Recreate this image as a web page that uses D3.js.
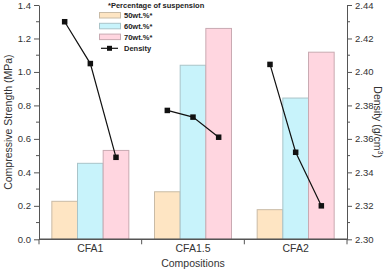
<!DOCTYPE html>
<html>
<head>
<meta charset="utf-8">
<script src="https://cdn.jsdelivr.net/npm/d3@7"></script>
<style>
  body { margin: 0; background: #fff; }
  svg { font-family: "Liberation Sans", Arial, sans-serif; }
</style>
</head>
<body>
<div id="chart"></div>
<script>
// * Chart data
var categories = ["CFA1", "CFA1.5", "CFA2"];
var seriesNames = ["50wt.%*", "60wt.%*", "70wt.%*"];
var strength50 = [0.227, 0.284, 0.177];
var strength60 = [0.454, 1.04, 0.844];
var strength70 = [0.531, 1.26, 1.118];
var density = [
  [2.430, 2.405, 2.349],
  [2.377, 2.373, 2.361],
  [2.4045, 2.352, 2.320]
];
var leftTicks = [0, 0.2, 0.4, 0.6, 0.8, 1.0, 1.2, 1.4];
var rightTicks = [2.30, 2.32, 2.34, 2.36, 2.38, 2.40, 2.42, 2.44];

var fills = ["#fee5c3", "#c8f3fb", "#ffd6e0"];
var strokes = ["#c9bba6", "#a9c4c9", "#c9aab2"];
var axisColor = "#555";
var textColor = "#333";

// * Dimensions
var W = 387, H = 269;
var margin = { left: 39, top: 5, right: 40, bottom: 30 };
var width = W - margin.left - margin.right;
var height = 234.3;

var svg = d3.select("#chart").append("svg")
  .attr("width", W).attr("height", H);
var g = svg.append("g")
  .attr("transform", "translate(" + margin.left + "," + margin.top + ")");

// * Scales
var x0 = d3.scaleBand().domain(categories).range([0, width]).padding(0);
var x1 = d3.scaleBand().domain(seriesNames)
  .range([x0.bandwidth() * 0.125, x0.bandwidth() * 0.875]).padding(0);
var y = d3.scaleLinear().domain([0, 1.4]).range([height, 0]);
var y2 = d3.scaleLinear().domain([2.30, 2.44]).range([height, 0]);

var strengthSeries = [strength50, strength60, strength70];

// * Bars
categories.forEach(function (cat, ci) {
  var grp = g.append("g").attr("transform", "translate(" + x0(cat) + ",0)");
  grp.selectAll("rect")
    .data(seriesNames.map(function (s, si) { return { s: s, i: si, v: strengthSeries[si][ci] }; }))
    .enter().append("rect")
    .attr("x", function (d) { return x1(d.s); })
    .attr("width", x1.bandwidth())
    .attr("y", function (d) { return y(d.v); })
    .attr("height", function (d) { return height - y(d.v); })
    .attr("fill", function (d) { return fills[d.i]; })
    .attr("stroke", function (d) { return strokes[d.i]; })
    .attr("stroke-width", 1);
});

// * Density lines, one segment per composition
var line = d3.line()
  .x(function (d) { return d.x; })
  .y(function (d) { return y2(d.v); });
categories.forEach(function (cat, ci) {
  var pts = density[ci].map(function (v, si) {
    return { x: x0(cat) + x1(seriesNames[si]) + x1.bandwidth() / 2, v: v };
  });
  g.append("path").datum(pts)
    .attr("d", line).attr("fill", "none")
    .attr("stroke", "#111").attr("stroke-width", 1.2);
  g.selectAll(".pt" + ci).data(pts).enter().append("rect")
    .attr("x", function (d) { return d.x - 2.75; })
    .attr("y", function (d) { return y2(d.v) - 2.75; })
    .attr("width", 5.5).attr("height", 5.5)
    .attr("fill", "#111");
});

// * Left axis
var yAxis = g.append("g")
  .call(d3.axisLeft(y).tickValues(leftTicks).tickFormat(d3.format(".1f")).tickSize(5).tickSizeOuter(0));
yAxis.append("g").selectAll("line")
  .data(d3.range(0.1, 1.4, 0.2)).enter().append("line")
  .attr("x1", 0).attr("x2", -3)
  .attr("y1", function (d) { return y(d); }).attr("y2", function (d) { return y(d); })
  .attr("stroke", axisColor);

// * Right axis
var y2Axis = g.append("g").attr("transform", "translate(" + width + ",0)")
  .call(d3.axisRight(y2).tickValues(rightTicks).tickFormat(d3.format(".2f")).tickSize(5).tickSizeOuter(0));
y2Axis.append("g").selectAll("line")
  .data(d3.range(2.31, 2.44, 0.02)).enter().append("line")
  .attr("x1", 0).attr("x2", 3)
  .attr("y1", function (d) { return y2(d); }).attr("y2", function (d) { return y2(d); })
  .attr("stroke", axisColor);

[yAxis, y2Axis].forEach(function (a) {
  a.selectAll("path, line").attr("stroke", axisColor);
  a.selectAll("text").attr("fill", textColor).style("font-size", "9.5px");
});

// * Bottom axis: ticks at the category boundaries, labels centered
var xg = g.append("g").attr("transform", "translate(0," + height + ")");
xg.append("line").attr("x1", 0).attr("x2", width).attr("stroke", axisColor).attr("stroke-width", 1.5);
xg.selectAll(".xt").data([0].concat(categories.map(function (c) { return x0(c) + x0.bandwidth(); })))
  .enter().append("line")
  .attr("x1", function (d) { return d; }).attr("x2", function (d) { return d; })
  .attr("y1", 0).attr("y2", 5).attr("stroke", axisColor);
xg.selectAll(".xl").data(categories).enter().append("text")
  .attr("x", function (d) { return x0(d) + x0.bandwidth() / 2; })
  .attr("y", 13).attr("text-anchor", "middle")
  .attr("fill", textColor).style("font-size", "10.5px")
  .text(function (d) { return d; });

// * Axis titles
svg.append("text")
  .attr("transform", "translate(12," + (margin.top + height / 2) + ") rotate(-90)")
  .attr("text-anchor", "middle").attr("fill", textColor).style("font-size", "10.5px")
  .text("Compressive Strength (MPa)");
var rt = svg.append("text")
  .attr("transform", "translate(374," + (margin.top + height / 2) + ") rotate(90)")
  .attr("text-anchor", "middle").attr("fill", textColor).style("font-size", "10.5px");
rt.append("tspan").text("Density (g/cm");
rt.append("tspan").attr("dy", -4).style("font-size", "7px").text("3");
rt.append("tspan").attr("dy", 4).text(")");
svg.append("text")
  .attr("x", margin.left + width / 2).attr("y", 267)
  .attr("text-anchor", "middle").attr("fill", textColor).style("font-size", "10.5px")
  .text("Compositions");

// * Legend
var lg = svg.append("g").attr("transform", "translate(99,0)");
lg.append("text").attr("x", 9).attr("y", 8)
  .style("font-size", "7.5px").style("font-weight", "bold").attr("fill", "#222")
  .text("*Percentage of suspension");
seriesNames.forEach(function (s, i) {
  lg.append("rect").attr("x", 0.5).attr("y", 12.5 + i * 10.8)
    .attr("width", 21).attr("height", 5.5)
    .attr("fill", fills[i]).attr("stroke", strokes[i]);
  lg.append("text").attr("x", 25).attr("y", 18.3 + i * 10.8)
    .style("font-size", "7.5px").style("font-weight", "bold").attr("fill", "#222")
    .text(s);
});
lg.append("line").attr("x1", 2).attr("x2", 19).attr("y1", 48.3).attr("y2", 48.3)
  .attr("stroke", "#111").attr("stroke-width", 1.2);
lg.append("rect").attr("x", 8).attr("y", 45.8).attr("width", 5).attr("height", 5).attr("fill", "#111");
lg.append("text").attr("x", 25).attr("y", 51)
  .style("font-size", "7.5px").style("font-weight", "bold").attr("fill", "#222")
  .text("Density");
</script>
</body>
</html>
